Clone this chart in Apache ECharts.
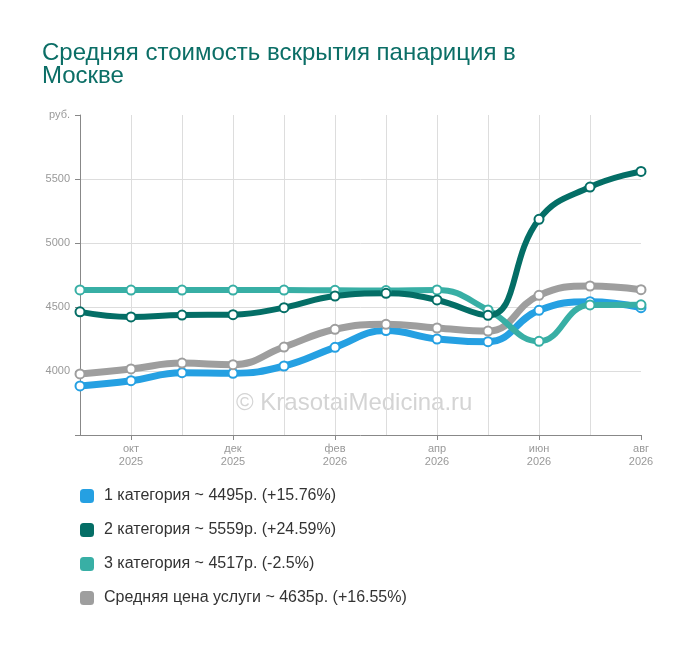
<!DOCTYPE html>
<html>
<head>
<meta charset="utf-8">
<script src="https://cdn.jsdelivr.net/npm/echarts@6/dist/echarts.min.js"></script>
<style>
  html, body {margin: 0; padding: 0; background: #fff;}
  #main {width: 700px; height: 646px;}
</style>
</head>
<body>
<div id="main"></div>
<script>
// месяцы сен 2025 - авг 2026
var months = ['сен\n2025', 'окт\n2025', 'ноя\n2025', 'дек\n2025', 'янв\n2026', 'фев\n2026',
              'мар\n2026', 'апр\n2026', 'май\n2026', 'июн\n2026', 'июл\n2026', 'авг\n2026'];

var cat1 = [3883, 3924, 3987, 3982, 4039, 4185, 4316, 4250, 4229, 4474, 4541, 4495];
var cat2 = [4462, 4422, 4437, 4440, 4495, 4586, 4607, 4555, 4435, 5185, 5437, 5559];
var cat3 = [4633, 4632, 4632, 4632, 4632, 4630, 4628, 4633, 4477, 4232, 4516, 4517];
var avgPrice = [3977, 4016, 4062, 4049, 4187, 4326, 4365, 4336, 4312, 4591, 4664, 4635];

var legendNames = [
    '1 категория ~ 4495р. (+15.76%)',
    '2 категория ~ 5559р. (+24.59%)',
    '3 категория ~ 4517р. (-2.5%)',
    'Средняя цена услуги ~ 4635р. (+16.55%)'
];
var colors = ['#25a0e2', '#046e66', '#38afa5', '#9e9e9e'];
var widths = [7, 6, 6, 7];

var chart = echarts.init(document.getElementById('main'));

// одна серия - одна линия
function makeSeries(idx, data) {
    return {
        name: legendNames[idx],
        type: 'line',
        data: data,
        smooth: 0.45,
        symbol: 'emptyCircle',
        symbolSize: 9,
        itemStyle: {color: colors[idx], borderWidth: 1.2},
        lineStyle: {color: colors[idx], width: widths[idx]}
    };
}

var option = {
    animation: false,
    title: {
        text: 'Средняя стоимость вскрытия панариция в\nМоскве',
        left: 37,
        top: 37,
        textStyle: {
            fontFamily: 'Liberation Sans, Arial',
            fontSize: 24,
            fontWeight: 'normal',
            color: '#0b6e66',
            lineHeight: 23
        }
    },
    graphic: [{
        type: 'text',
        left: 236,
        top: 391,
        z: -10,
        style: {
            text: '© KrasotaiMedicina.ru',
            fontFamily: 'Liberation Sans, Arial',
            fontSize: 24,
            fill: '#d4d4d4'
        }
    }],
    legend: {
        orient: 'vertical',
        left: 75,
        top: 483,
        icon: 'roundRect',
        itemWidth: 14,
        itemHeight: 14,
        itemGap: 18,
        textStyle: {
            fontFamily: 'Liberation Sans, Arial',
            fontSize: 16,
            color: '#333',
            padding: [0, 0, 0, 5]
        },
        data: legendNames
    },
    grid: {left: 80, right: 59, top: 115, bottom: 211},
    xAxis: {
        type: 'category',
        data: months,
        boundaryGap: false,
        axisLine: {lineStyle: {color: '#888'}},
        axisTick: {
            length: 5,
            lineStyle: {color: '#888'},
            interval: function (i) { return i % 2 === 1; }
        },
        axisLabel: {
            color: '#999',
            fontSize: 11,
            lineHeight: 13,
            margin: 7,
            fontFamily: 'Liberation Sans, Arial',
            interval: function (i) { return i % 2 === 1; }
        },
        splitLine: {
            show: true,
            interval: 0,
            lineStyle: {color: ['#ddd', '#ddd', '#ddd', '#ddd', '#ddd', '#ddd',
                                '#ddd', '#ddd', '#ddd', '#ddd', '#ddd', 'rgba(0,0,0,0)']}
        }
    },
    yAxis: {
        type: 'value',
        min: 3500,
        max: 6000,
        interval: 500,
        axisLine: {show: true, lineStyle: {color: '#888'}},
        axisTick: {show: true, length: 5, lineStyle: {color: '#888'}},
        axisLabel: {
            color: '#999',
            fontSize: 11,
            margin: 10,
            fontFamily: 'Liberation Sans, Arial',
            formatter: function (v) {
                if (v === 6000) return 'руб.';
                if (v === 3500) return '';
                return v;
            }
        },
        splitLine: {
            lineStyle: {color: ['rgba(0,0,0,0)', '#ddd', '#ddd', '#ddd', '#ddd', 'rgba(0,0,0,0)']}
        }
    },
    series: [
        makeSeries(0, cat1),
        makeSeries(3, avgPrice),
        makeSeries(2, cat3),
        makeSeries(1, cat2)
    ]
};

chart.setOption(option);
</script>
</body>
</html>
